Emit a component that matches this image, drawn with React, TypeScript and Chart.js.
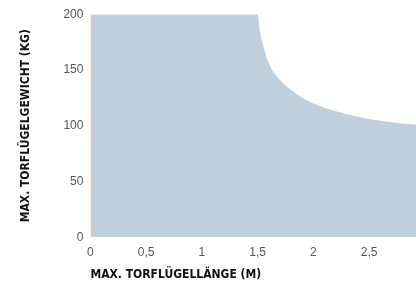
import React, { useEffect, useRef } from "react";
import { Chart, registerables } from "chart.js";

Chart.register(...registerables);

const lengthM = [0, 0.5, 1, 1.5, 1.52, 1.55, 1.6, 1.7, 1.8, 1.9, 2.0, 2.2, 2.4, 2.6, 2.8, 2.92];
const weightKg = [200, 200, 200, 200, 185, 172, 156, 141, 132, 125, 120, 113, 108, 104.5, 102, 101];
const xTicks = [0, 0.5, 1, 1.5, 2, 2.5];
const yTicks = [0, 50, 100, 150, 200];
const xTitle = "MAX. TORFLÜGELLÄNGE (M)";
const yTitle = "MAX. TORFLÜGELGEWICHT (KG)";

export default function App() {
  const ref = useRef<HTMLCanvasElement>(null);
  useEffect(() => {
    if (!ref.current) return;
    const titleFont = { family: "'Liberation Sans Narrow', 'DejaVu Sans Condensed', sans-serif", size: 12, weight: "bold" as const };
    const tickFont = { family: "'Liberation Sans', Arial, sans-serif", size: 12 };
    const chart = new Chart(ref.current, {
      type: "line",
      data: {
        datasets: [
          {
            data: lengthM.map((x, i) => ({ x, y: weightKg[i] })),
            fill: "origin",
            backgroundColor: "#bfd0dc",
            borderWidth: 0,
            borderColor: "rgba(0,0,0,0)",
            pointRadius: 0,
            cubicInterpolationMode: "monotone",
          },
        ],
      },
      options: {
        animation: false,
        responsive: false,
        maintainAspectRatio: false,
        layout: { padding: { left: 19, top: 6, right: 0, bottom: 0 } },
        plugins: { legend: { display: false }, tooltip: { enabled: false } },
        scales: {
          x: {
            type: "linear",
            min: 0,
            max: 2.92,
            grid: { display: false, drawTicks: false },
            border: { display: false },
            afterBuildTicks: (axis: any) => {
              axis.ticks = xTicks.map((v) => ({ value: v }));
            },
            ticks: {
              color: "#555",
              font: tickFont,
              padding: 8,
              maxRotation: 0,
              callback: (v: any) => String(v).replace(".", ","),
            },
            title: { display: true, text: xTitle, align: "start", color: "#111", font: titleFont, padding: { top: 0, bottom: 0 } },
          },
          y: {
            min: 0,
            max: 200,
            grid: { display: false, drawTicks: false },
            border: { display: false },
            afterBuildTicks: (axis: any) => {
              axis.ticks = yTicks.map((v) => ({ value: v }));
            },
            ticks: { color: "#555", font: tickFont, padding: 7 },
            title: { display: true, text: yTitle, color: "#111", font: titleFont, padding: { top: 0, bottom: 23 } },
          },
        },
      },
    });
    return () => chart.destroy();
  }, []);
  return (
    <div style={{ position: "absolute", left: 0, top: 0, width: 416, height: 282 }}>
      <canvas ref={ref} width={416} height={282} style={{ width: 416, height: 282 }} />
    </div>
  );
}
